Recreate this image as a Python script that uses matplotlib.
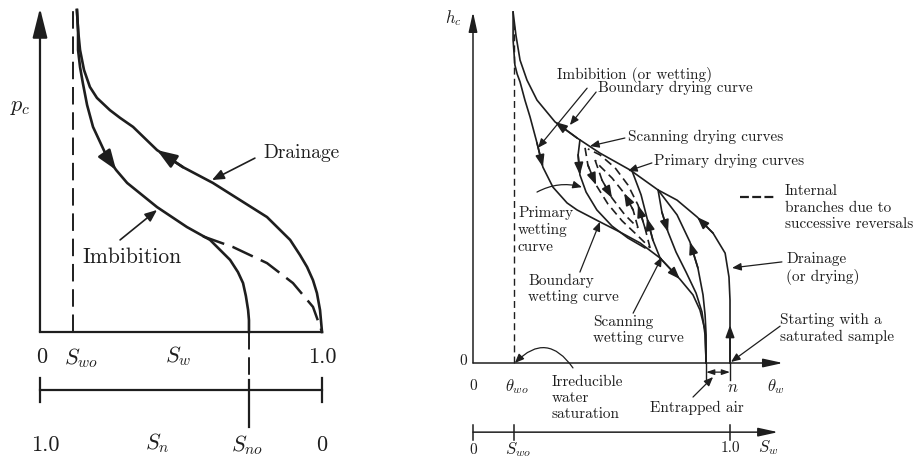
import matplotlib.pyplot as plt
import numpy as np

plt.rcParams['font.family'] = 'cmr10'
plt.rcParams['mathtext.fontset'] = 'cm'
plt.rcParams['axes.formatter.use_mathtext'] = True

ink = '#1e1e1e'

# ---- left: p_c against S_w ----
sw_wo = 0.117
sw_no = 0.74
sw_drain = [0.131, 0.135, 0.142, 0.156, 0.177, 0.202, 0.248, 0.284, 0.330, 0.415, 0.507, 0.613,
            0.709, 0.805, 0.887, 0.922, 0.947, 0.968, 0.982, 0.993, 1.0]
pc_drain = [1.0, 0.938, 0.876, 0.814, 0.761, 0.727, 0.689, 0.665, 0.637, 0.565, 0.512, 0.463,
            0.410, 0.357, 0.286, 0.239, 0.202, 0.161, 0.121, 0.068, 0.0]
sw_imb = [0.131, 0.135, 0.135, 0.142, 0.152, 0.167, 0.188, 0.238, 0.270, 0.309, 0.415, 0.521,
          0.603, 0.674, 0.702, 0.720, 0.730, 0.738, 0.741, 0.741]
pc_imb = [1.0, 0.938, 0.876, 0.823, 0.773, 0.705, 0.637, 0.543, 0.503, 0.463, 0.388, 0.326,
          0.286, 0.224, 0.186, 0.152, 0.112, 0.068, 0.037, 0.0]
sw_branch = [0.578, 0.684, 0.805, 0.897, 0.968, 1.0]
pc_branch = [0.297, 0.264, 0.214, 0.152, 0.078, 0.0]

# ---- right: h_c against theta_w (n = 1) ----
th_wo = 0.16
th_trap = 0.907
th_up = [0.156, 0.167, 0.183, 0.210, 0.249, 0.319, 0.405, 0.494, 0.611, 0.720, 0.794, 0.872, 0.934, 0.981, 0.996, 1.0, 1.0, 1.0]
h_up = [1.0, 0.934, 0.863, 0.806, 0.749, 0.687, 0.641, 0.598, 0.550, 0.493, 0.464, 0.416, 0.370, 0.313, 0.245, 0.179, 0.108, 0.0]
th_lo = [0.156, 0.156, 0.163, 0.172, 0.183, 0.202, 0.222, 0.249, 0.272, 0.311, 0.366, 0.405, 0.494, 0.572, 0.650, 0.728, 0.805, 0.856, 0.883, 0.903, 0.907]
h_lo = [1.0, 0.920, 0.849, 0.823, 0.801, 0.749, 0.701, 0.627, 0.558, 0.501, 0.456, 0.436, 0.402, 0.373, 0.342, 0.299, 0.239, 0.194, 0.151, 0.094, 0.0]
th_dry_a = [0.907, 0.907, 0.903, 0.895, 0.875, 0.844, 0.794, 0.720]
h_dry_a = [0.0, 0.080, 0.137, 0.194, 0.271, 0.345, 0.422, 0.493]
th_wet_a = [0.720, 0.735, 0.759, 0.790, 0.829, 0.868, 0.891, 0.903, 0.907]
h_wet_a = [0.493, 0.430, 0.373, 0.316, 0.259, 0.199, 0.145, 0.080, 0.0]
th_wet1 = [0.416, 0.409, 0.416, 0.440, 0.482, 0.541, 0.603, 0.669]
h_wet1 = [0.635, 0.593, 0.536, 0.487, 0.436, 0.390, 0.356, 0.328]
th_dry1 = [0.728, 0.700, 0.677, 0.654, 0.619]
h_dry1 = [0.299, 0.350, 0.413, 0.479, 0.547]
th_dw1 = [0.436, 0.447, 0.479, 0.525, 0.580, 0.642, 0.689]
h_dw1 = [0.613, 0.564, 0.507, 0.453, 0.405, 0.362, 0.328]
th_dd1 = [0.689, 0.669, 0.642, 0.603, 0.553, 0.494, 0.447]
h_dd1 = [0.328, 0.385, 0.450, 0.507, 0.556, 0.593, 0.610]
th_dw2 = [0.475, 0.502, 0.541, 0.591, 0.642]
h_dw2 = [0.578, 0.521, 0.470, 0.422, 0.385]
th_dd2 = [0.642, 0.623, 0.588, 0.541, 0.494, 0.475]
h_dd2 = [0.385, 0.436, 0.484, 0.527, 0.561, 0.578]


def head(ax, x, y, i, j, lw, ms):
    # arrowhead with its tip on point i, pointing away from point j
    ax.annotate('', xy=(x[i], y[i]), xytext=(x[j], y[j]),
                arrowprops=dict(arrowstyle='-|>,head_length=0.6,head_width=0.22',
                                color=ink, lw=lw, mutation_scale=ms,
                                shrinkA=0, shrinkB=0))


def pointer(ax, txt_xy, tip_xy, lw=0.9, ms=9, rad=0.0):
    ax.annotate('', xy=tip_xy, xytext=txt_xy,
                arrowprops=dict(arrowstyle='-|>,head_length=0.6,head_width=0.25',
                                color=ink, lw=lw, mutation_scale=ms,
                                shrinkA=0, shrinkB=0,
                                connectionstyle=f'arc3,rad={rad}'))


fig = plt.figure(figsize=(9.15, 4.59), dpi=100)
axL = fig.add_axes([0, 0, 340 / 915, 1])
axR = fig.add_axes([440 / 915, 0, 475 / 915, 1])

# ---------------- left panel ----------------
ax = axL
ax.set_xlim(-0.1418, 1.0638)
ax.set_ylim(-0.3944, 1.0311)
ax.axis('off')

ax.plot([0, 1], [0, 0], color=ink, lw=1.6)
ax.annotate('', xy=(0, 1.006), xytext=(0, 0),
            arrowprops=dict(arrowstyle='-|>,head_length=1.2,head_width=0.3',
                            color=ink, lw=1.6, mutation_scale=15,
                            shrinkA=0, shrinkB=0))
ax.plot([sw_wo, sw_wo], [0, 1.0], color=ink, lw=1.4, ls=(0, (9, 4)))
ax.plot([sw_no, sw_no], [0, -0.15], color=ink, lw=1.4, ls=(0, (9, 4)))
ax.plot([sw_no, sw_no], [-0.15, -0.295], color=ink, lw=1.6)

ax.plot(sw_drain, pc_drain, color=ink, lw=1.9, solid_joinstyle='round')
ax.plot(sw_imb, pc_imb, color=ink, lw=1.9, solid_joinstyle='round')
ax.plot(sw_branch, pc_branch, color=ink, lw=1.8, ls=(0, (9, 3.5)))
head(ax, sw_drain, pc_drain, 9, 10, 1.9, 20)
head(ax, sw_imb, pc_imb, 8, 7, 1.9, 20)

# S_n scale underneath
ax.plot([0, 1], [-0.18, -0.18], color=ink, lw=1.6)
for s in [0, 1]:
    ax.plot([s, s], [-0.143, -0.217], color=ink, lw=1.6)

big = 16
ax.text(-0.071, 0.699, '$p_c$', fontsize=big, ha='center', va='center', color=ink)
ax.text(0.007, -0.078, '0', fontsize=big, ha='center', va='center', color=ink)
ax.text(0.145, -0.08, '$S_{wo}$', fontsize=big, ha='center', va='center', color=ink)
ax.text(0.489, -0.075, '$S_w$', fontsize=big, ha='center', va='center', color=ink)
ax.text(1.0, -0.078, '1.0', fontsize=big, ha='center', va='center', color=ink)
ax.text(0.018, -0.351, '1.0', fontsize=big, ha='center', va='center', color=ink)
ax.text(0.415, -0.345, '$S_n$', fontsize=big, ha='center', va='center', color=ink)
ax.text(0.734, -0.351, '$S_{no}$', fontsize=big, ha='center', va='center', color=ink)
ax.text(1.0, -0.351, '0', fontsize=big, ha='center', va='center', color=ink)

ax.text(0.791, 0.556, 'Drainage', fontsize=14, ha='left', va='center', color=ink)
pointer(ax, (0.762, 0.540), (0.610, 0.472), lw=1.2, ms=12)
ax.text(0.149, 0.233, 'Imbibition', fontsize=15.5, ha='left', va='center', color=ink)
pointer(ax, (0.284, 0.286), (0.415, 0.379), lw=1.2, ms=12)

# ---------------- right panel ----------------
ax = axR
ax.set_xlim(-0.1284, 1.7198)
ax.set_ylim(-0.2735, 1.0342)
ax.axis('off')

axis_arrow = dict(arrowstyle='-|>,head_length=1.0,head_width=0.22', color=ink,
                  lw=1.1, mutation_scale=12, shrinkA=0, shrinkB=0)
ax.annotate('', xy=(0, 1.0), xytext=(0, 0), arrowprops=axis_arrow)
ax.annotate('', xy=(1.206, 0), xytext=(0, 0), arrowprops=axis_arrow)
ax.annotate('', xy=(1.187, -0.197), xytext=(0, -0.197), arrowprops=axis_arrow)
for t in [0, th_wo, 1.0]:
    ax.plot([t, t], [-0.177, -0.219], color=ink, lw=1.1)
ax.plot([th_wo, th_wo], [0, 0.96], color=ink, lw=1.0, ls=(0, (5, 3)))

lw = 1.2
for x, y in [(th_up, h_up), (th_lo, h_lo), (th_dry_a, h_dry_a), (th_wet_a, h_wet_a),
             (th_wet1, h_wet1), (th_dry1, h_dry1)]:
    ax.plot(x, y, color=ink, lw=lw, solid_joinstyle='round')
for x, y in [(th_dw1, h_dw1), (th_dd1, h_dd1), (th_dw2, h_dw2), (th_dd2, h_dd2)]:
    ax.plot(x, y, color=ink, lw=lw, ls=(0, (5, 3)))

ms = 12
head(ax, th_up, h_up, 5, 6, lw, ms)
head(ax, th_up, h_up, 11, 12, lw, ms)
head(ax, th_up, h_up, 16, 17, lw, ms)
head(ax, th_lo, h_lo, 8, 7, lw, ms)
head(ax, th_lo, h_lo, 16, 15, lw, ms)
head(ax, th_dry_a, h_dry_a, 5, 4, lw, ms)
head(ax, th_wet_a, h_wet_a, 2, 1, lw, ms)
head(ax, th_wet1, h_wet1, 2, 1, lw, ms)
head(ax, th_dry1, h_dry1, 2, 1, lw, ms)
head(ax, th_dw1, h_dw1, 2, 1, lw, ms)
head(ax, th_dd1, h_dd1, 2, 1, lw, ms)
head(ax, th_dw2, h_dw2, 2, 1, lw, ms)
head(ax, th_dd2, h_dd2, 2, 1, lw, ms)

# entrapped air marker
for t in [th_trap, 1.0]:
    ax.plot([t, t], [0, -0.048], color=ink, lw=1.0)
ax.annotate('', xy=(1.0, -0.026), xytext=(th_trap, -0.026),
            arrowprops=dict(arrowstyle='<|-|>,head_length=0.6,head_width=0.2',
                            color=ink, lw=0.9, mutation_scale=8,
                            shrinkA=0, shrinkB=0))

sm = 12
ax.text(-0.078, 0.983, '$h_c$', fontsize=sm, ha='center', va='center', color=ink)
ax.text(-0.039, 0.006, '0', fontsize=11, ha='center', va='center', color=ink)
ax.text(0, -0.066, '0', fontsize=11, ha='center', va='center', color=ink)
ax.text(0.171, -0.066, r'$\theta_{wo}$', fontsize=sm, ha='center', va='center', color=ink)
ax.text(1.012, -0.070, '$n$', fontsize=sm, ha='center', va='center', color=ink)
ax.text(1.179, -0.066, r'$\theta_w$', fontsize=sm, ha='center', va='center', color=ink)
ax.text(0, -0.248, '0', fontsize=11, ha='center', va='center', color=ink)
ax.text(0.175, -0.248, '$S_{wo}$', fontsize=sm, ha='center', va='center', color=ink)
ax.text(1.0, -0.242, '1.0', fontsize=11, ha='center', va='center', color=ink)
ax.text(1.148, -0.242, '$S_w$', fontsize=sm, ha='center', va='center', color=ink)

fs = 11
ls = 1.25
ax.text(0.327, 0.821, 'Imbibition (or wetting)', fontsize=fs, va='center', color=ink)
pointer(ax, (0.444, 0.783), (0.253, 0.613))
ax.text(0.486, 0.783, 'Boundary drying curve', fontsize=fs, va='center', color=ink)
pointer(ax, (0.479, 0.772), (0.377, 0.678))
ax.text(0.603, 0.644, 'Scanning drying curves', fontsize=fs, va='center', color=ink)
pointer(ax, (0.591, 0.641), (0.455, 0.618))
ax.text(0.704, 0.575, 'Primary drying curves', fontsize=fs, va='center', color=ink)
pointer(ax, (0.696, 0.570), (0.603, 0.547))

ax.plot([1.039, 1.175], [0.473, 0.473], color=ink, lw=1.6, ls=(0, (4, 1.5)))
ax.text(1.214, 0.442, 'Internal\nbranches due to\nsuccessive reversals', fontsize=fs,
        va='center', linespacing=ls, color=ink)

ax.text(0.175, 0.379, 'Primary\nwetting\ncurve', fontsize=fs, va='center', linespacing=ls, color=ink)
pointer(ax, (0.249, 0.487), (0.424, 0.501), rad=-0.2)
ax.text(0.214, 0.211, 'Boundary\nwetting curve', fontsize=fs, va='center', linespacing=ls, color=ink)
pointer(ax, (0.416, 0.259), (0.494, 0.402))
ax.text(0.467, 0.094, 'Scanning\nwetting curve', fontsize=fs, va='center', linespacing=ls, color=ink)
pointer(ax, (0.623, 0.142), (0.735, 0.302))
ax.text(1.218, 0.268, 'Drainage\n(or drying)', fontsize=fs, va='center', linespacing=ls, color=ink)
pointer(ax, (1.202, 0.288), (1.008, 0.271))
ax.text(1.195, 0.097, 'Starting with a\nsaturated sample', fontsize=fs, va='center', linespacing=ls, color=ink)
pointer(ax, (1.195, 0.105), (1.004, 0.003))
ax.text(0.307, -0.10, 'Irreducible\nwater\nsaturation', fontsize=fs, va='center', linespacing=ls, color=ink)
pointer(ax, (0.389, -0.014), (0.163, 0.0), rad=0.6)
ax.text(0.689, -0.128, 'Entrapped air', fontsize=fs, va='center', color=ink)
pointer(ax, (0.856, -0.097), (0.934, -0.040))

fig.savefig('out.png', dpi=100, facecolor='white')
